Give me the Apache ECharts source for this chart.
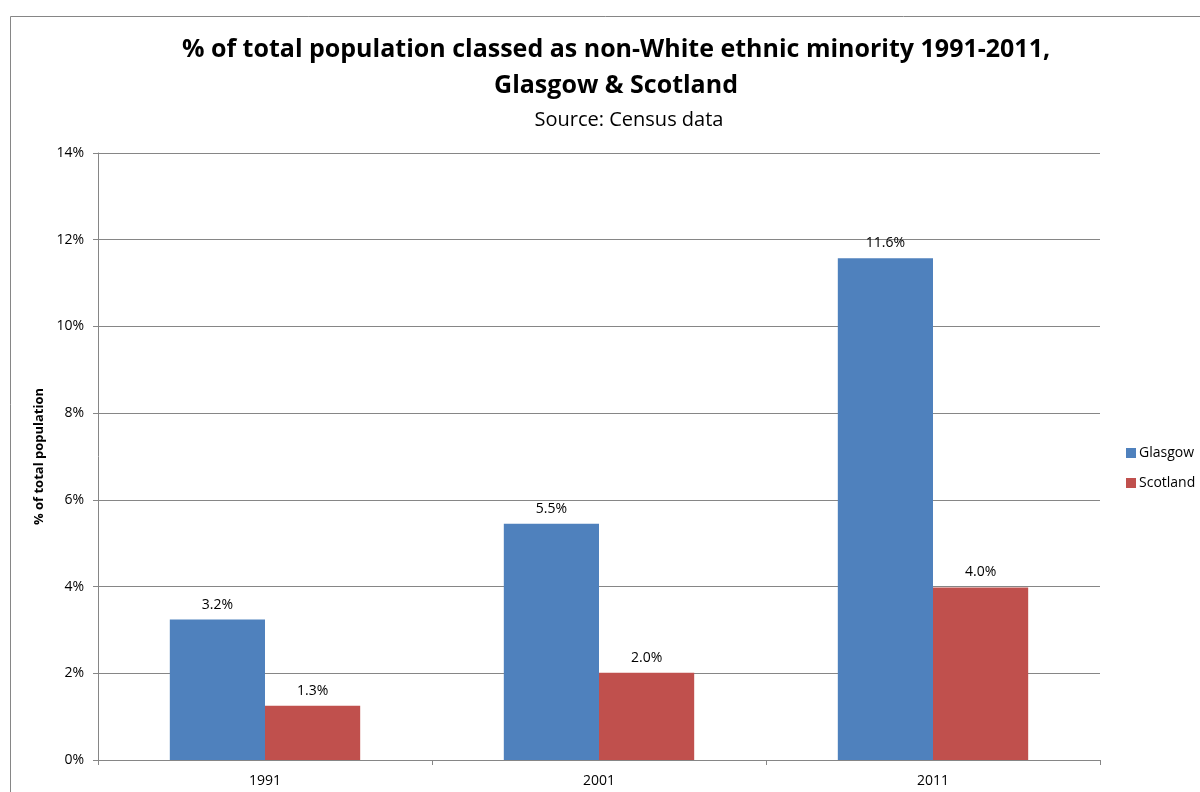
<!DOCTYPE html>
<html><head><meta charset="utf-8">
<script src="https://cdn.jsdelivr.net/npm/echarts@6/dist/echarts.min.js"></script>
<style>html,body{margin:0;padding:0;background:#fff}#c{width:1200px;height:792px}</style>
</head><body><div id="c"></div>
<script>
const categories = ['1991', '2001', '2011'];
const glasgow = [3.24, 5.45, 11.57];
const scotland = [1.25, 2.01, 3.98];
const seriesNames = ['Glasgow', 'Scotland'];
const yTicks = { min: 0, max: 14, interval: 2 };

const font = "'Open Sans', 'Liberation Sans', sans-serif";
const chart = echarts.init(document.getElementById('c'), null, { renderer: 'canvas' });
const lbl = {
  show: true, position: 'top', distance: 8, color: '#000', fontSize: 14, fontFamily: font,
  formatter: p => p.value.toFixed(1) + '%'
};
chart.setOption({
  backgroundColor: '#fff',
  animation: false,
  graphic: [{ type: 'rect', shape: { x: 10.5, y: 16.5, width: 1200, height: 800 },
    style: { fill: 'none', stroke: '#868686', lineWidth: 1 }, silent: true }],
  title: [
    { text: '% of total population classed as non-White ethnic minority 1991-2011,\nGlasgow & Scotland',
      left: 611, textAlign: 'center', top: 27,
      textStyle: { fontFamily: font, fontWeight: 'bold', fontSize: 25, lineHeight: 36, color: '#000' } },
    { text: 'Source: Census data', left: 624, textAlign: 'center', top: 105,
      textStyle: { fontFamily: font, fontWeight: 'normal', fontSize: 20, color: '#000' } }
  ],
  legend: {
    orient: 'vertical', left: 1126, top: 446, padding: 0, itemWidth: 10, itemHeight: 10, itemGap: 16,
    icon: 'rect', data: seriesNames,
    textStyle: { fontFamily: font, fontSize: 14, color: '#000', padding: [0, 0, 0, -2] }
  },
  grid: { left: 98, right: 100, top: 153, bottom: 32, containLabel: false },
  xAxis: {
    type: 'category', data: categories,
    axisLine: { lineStyle: { color: '#868686', width: 1 } },
    axisTick: { show: true, length: 5, lineStyle: { color: '#868686' } },
    axisLabel: { fontFamily: font, fontSize: 14, color: '#000', margin: 14 }
  },
  yAxis: {
    type: 'value', min: yTicks.min, max: yTicks.max, interval: yTicks.interval,
    name: '% of total population', nameLocation: 'middle', nameGap: 43, nameRotate: 90,
    nameTextStyle: { fontFamily: font, fontWeight: 'bold', fontSize: 13, color: '#000' },
    axisLine: { show: true, lineStyle: { color: '#868686' } },
    axisTick: { show: true, length: 5, lineStyle: { color: '#868686' } },
    axisLabel: { fontFamily: font, fontSize: 14, color: '#000', margin: 14, formatter: '{value}%' },
    splitLine: { lineStyle: { color: '#868686', width: 1 } }
  },
  series: [
    { name: seriesNames[0], type: 'bar', data: glasgow, barGap: '0%', barCategoryGap: '43%',
      itemStyle: { color: '#4F81BD' }, label: lbl },
    { name: seriesNames[1], type: 'bar', data: scotland, barGap: '0%', barCategoryGap: '43%',
      itemStyle: { color: '#C0504D' }, label: lbl }
  ]
});
</script></body></html>
